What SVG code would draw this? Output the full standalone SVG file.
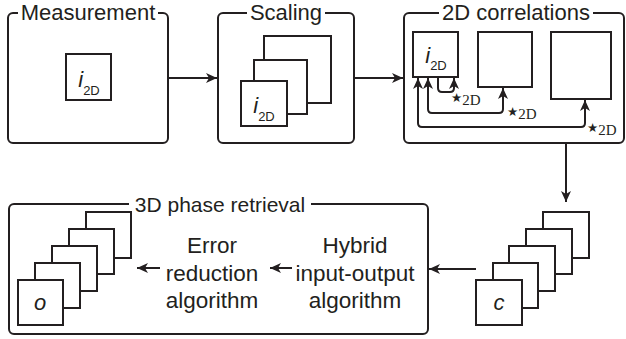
<svg xmlns="http://www.w3.org/2000/svg" width="626" height="339" viewBox="0 0 626 339">
<style>
.box{fill:none;stroke:#231f20;stroke-width:2}
.sq{fill:#fff;stroke:#231f20;stroke-width:2}
.gap{fill:#fff;stroke:none}
.title{font-family:"Liberation Sans",Arial,sans-serif;font-size:22px;fill:#231f20;text-anchor:middle}
.body{font-family:"Liberation Sans",Arial,sans-serif;font-size:22.5px;fill:#231f20;text-anchor:middle}
.var{font-family:"Liberation Sans",Arial,sans-serif;font-size:22px;font-style:italic;fill:#231f20;text-anchor:middle}
.sub{font-style:normal;font-size:13px}
.op{font-family:"Liberation Serif","Times New Roman",serif;font-size:15px;fill:#231f20}
.star{font-family:"DejaVu Sans",sans-serif;font-size:12.5px}
.line{fill:none;stroke:#231f20;stroke-width:2}
</style>
<defs>
<marker id="ah" markerUnits="userSpaceOnUse" markerWidth="12" markerHeight="12" viewBox="-11 -6 12 12" refX="0" refY="0" orient="auto-start-reverse">
<path d="M0,0 L-11,-5 L-8,0 L-11,5 Z" fill="#231f20"/>
</marker>
</defs>

<g id="measurement">
<rect class="box" x="8" y="13" width="160" height="130" rx="5"/>
<rect class="gap" x="18" y="4" width="140" height="16"/>
<text class="title" x="88" y="20">Measurement</text>
<rect class="sq" x="66" y="54" width="45" height="46"/>
<text class="var" x="89" y="87">i<tspan class="sub" dy="8">2D</tspan></text>
</g>

<g id="scaling">
<rect class="box" x="218" y="13" width="136" height="130" rx="5"/>
<rect class="gap" x="247" y="4" width="78" height="16"/>
<text class="title" x="286" y="20">Scaling</text>
<rect class="sq" x="264" y="36" width="67" height="67"/>
<rect class="sq" x="254" y="60" width="53" height="54"/>
<rect class="sq" x="241" y="81" width="46" height="45"/>
<text class="var" x="264" y="113">i<tspan class="sub" dy="8">2D</tspan></text>
</g>

<g id="correlations">
<rect class="box" x="404" y="13" width="220" height="130" rx="5"/>
<rect class="gap" x="439" y="4" width="154" height="16"/>
<text class="title" x="516" y="20">2D correlations</text>
<rect class="sq" x="413" y="32" width="45" height="45"/>
<text class="var" x="436" y="63">i<tspan class="sub" dy="7">2D</tspan></text>
<rect class="sq" x="478" y="32" width="54" height="55"/>
<rect class="sq" x="551" y="32" width="60" height="67"/>
<text class="op" x="451" y="105"><tspan class="star" dy="-3">★</tspan><tspan dy="3">2D</tspan></text>
<text class="op" x="507" y="119"><tspan class="star" dy="-3">★</tspan><tspan dy="3">2D</tspan></text>
<text class="op" x="587" y="135"><tspan class="star" dy="-3">★</tspan><tspan dy="3">2D</tspan></text>
</g>

<g id="c-stack">
<rect class="sq" x="543" y="212" width="46" height="46"/>
<rect class="sq" x="526" y="229" width="46" height="45"/>
<rect class="sq" x="509" y="246" width="46" height="45"/>
<rect class="sq" x="493" y="263" width="45" height="45"/>
<rect class="sq" x="476" y="280" width="46" height="45"/>
<text class="var" x="499" y="310">c</text>
</g>

<g id="retrieval">
<rect class="box" x="9" y="204" width="419" height="130" rx="5"/>
<rect class="gap" x="129" y="195" width="182" height="17"/>
<text class="title" x="220" y="212" style="font-size:21px">3D phase retrieval</text>
<rect class="sq" x="86" y="212" width="45" height="46"/>
<rect class="sq" x="69" y="229" width="45" height="45"/>
<rect class="sq" x="52" y="246" width="45" height="45"/>
<rect class="sq" x="35" y="263" width="45" height="45"/>
<rect class="sq" x="18" y="280" width="45" height="45"/>
<text class="var" x="40" y="310">o</text>
<text class="body" x="212" y="253">Error</text>
<text class="body" x="212" y="280.5">reduction</text>
<text class="body" x="212" y="308">algorithm</text>
<text class="body" x="355" y="253">Hybrid</text>
<text class="body" x="355" y="280.5">input-output</text>
<text class="body" x="355" y="308">algorithm</text>
</g>

<g id="connectors">
<line class="line" x1="168" y1="78" x2="217" y2="78" marker-end="url(#ah)"/>
<line class="line" x1="354" y1="78" x2="403" y2="78" marker-end="url(#ah)"/>
<path class="line" d="M438,77 V88 Q438,92 442,92 H450 Q454,92 454,88 V78" marker-end="url(#ah)"/>
<path class="line" d="M503,88 V109 Q503,113 499,113 H432 Q428,113 428,109 V78" marker-start="url(#ah)" marker-end="url(#ah)"/>
<path class="line" d="M585,100 V123 Q585,127 581,127 H422 Q418,127 418,123 V78" marker-start="url(#ah)" marker-end="url(#ah)"/>
<line class="line" x1="566" y1="143" x2="566" y2="202" marker-end="url(#ah)"/>
<line class="line" x1="476" y1="269" x2="429" y2="269" marker-end="url(#ah)"/>
<line class="line" x1="292" y1="268" x2="270" y2="268" marker-end="url(#ah)"/>
<line class="line" x1="160" y1="268" x2="137" y2="268" marker-end="url(#ah)"/>
</g>
</svg>
